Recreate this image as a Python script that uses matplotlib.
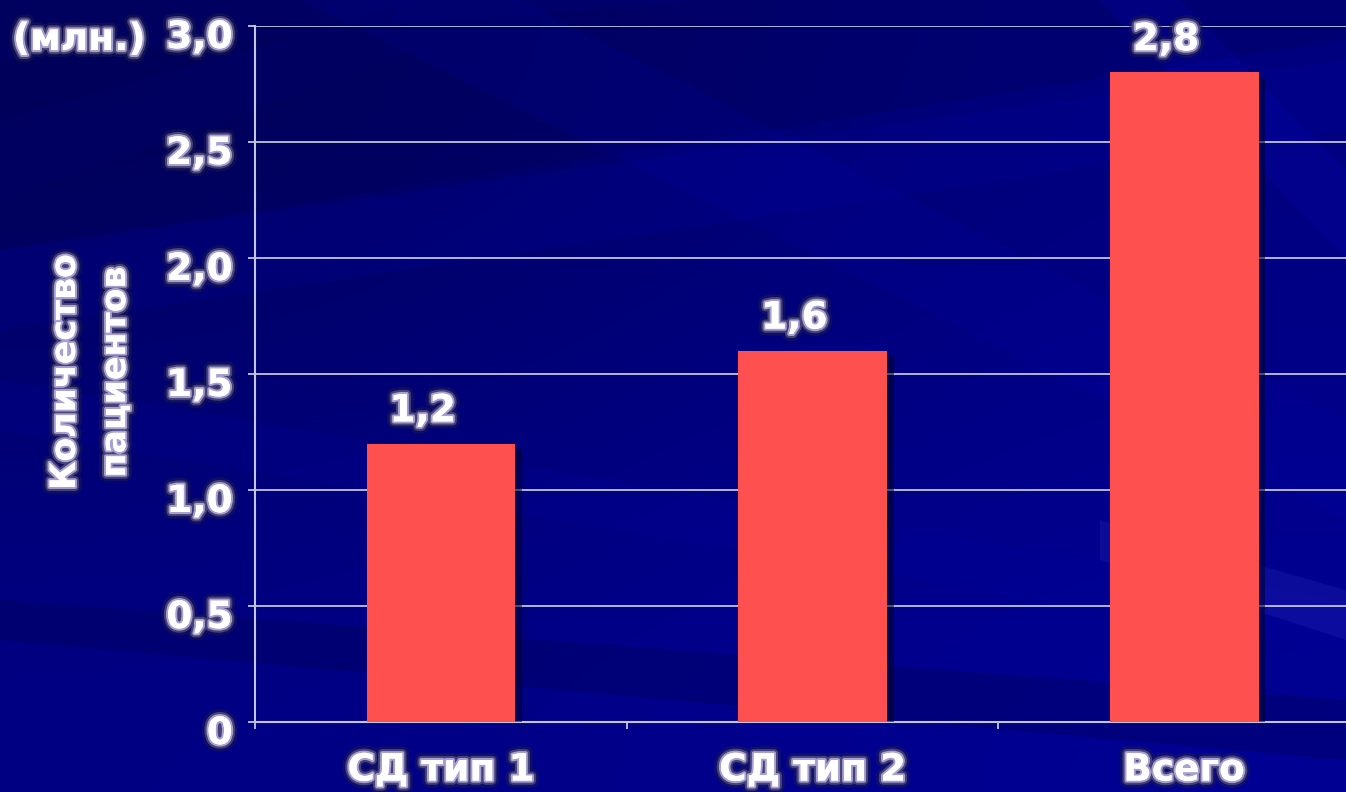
import numpy as np
import matplotlib
matplotlib.use('Agg')
import matplotlib.pyplot as plt
from matplotlib import patheffects as pe
from matplotlib.patches import Polygon
from matplotlib.transforms import ScaledTranslation

# данные: число пациентов с СД, млн.
categories = ['СД тип 1', 'СД тип 2', 'Всего']
values = [1.2, 1.6, 2.8]
value_labels = ['1,2', '1,6', '2,8']
yticks = [0, 0.5, 1.0, 1.5, 2.0, 2.5, 3.0]
ytick_labels = ['0', '0,5', '1,0', '1,5', '2,0', '2,5', '3,0']

W, H = 1346, 792
plt.rcParams['font.family'] = ['DejaVu Sans']
plt.rcParams['font.weight'] = 'bold'

# белый текст с сиреневым ореолом
glow = [pe.withStroke(linewidth=10, foreground='#20204a', alpha=0.45),
        pe.withStroke(linewidth=6, foreground='#4c4878', alpha=0.9),
        pe.withStroke(linewidth=3, foreground='#a8a0d0'),
        pe.Normal()]

fig = plt.figure(figsize=(W / 100, H / 100), dpi=100)

# фон: тёмно-синий градиент с диагональными полосами
bg = fig.add_axes([0, 0, 1, 1], zorder=-10)
bg.set_xlim(0, W)
bg.set_ylim(H, 0)
bg.axis('off')
grad = np.array([[[0.0, 0.0, 0.36], [0.0, 0.0, 0.50]],
                 [[0.0, 0.0, 0.52], [0.0, 0.0, 0.58]]])
bg.imshow(grad, extent=[0, W, H, 0], interpolation='bicubic', aspect='auto')
streaks = [
    ([(0, 60), (700, 0), (1346, 0), (1346, 40), (0, 250)], '#000048', 0.2),
    ([(0, 250), (1346, 60), (1346, 130), (0, 330)], '#0000a8', 0.18),
    ([(300, 0), (520, 0), (1346, 420), (1346, 520)], '#0000b0', 0.15),
    ([(0, 380), (1346, 600), (1346, 650), (0, 430)], '#0000a0', 0.2),
    ([(0, 600), (1346, 700), (1346, 760), (0, 640)], '#000050', 0.3),
    ([(1100, 520), (1346, 590), (1346, 640), (1100, 560)], '#3030c0', 0.25),
    ([(1100, 0), (1180, 0), (1346, 170), (1346, 260)], '#0a0ab8', 0.2),
    ([(0, 120), (420, 0), (560, 0), (0, 200)], '#00006a', 0.3),
]
for pts, col, a in streaks:
    bg.add_patch(Polygon(pts, closed=True, facecolor=col, edgecolor='none', alpha=a))

# область графика
x0, x1 = 255, 1370
y0, y1 = 722, 26
ax = fig.add_axes([x0 / W, (H - y0) / H, (x1 - x0) / W, (y0 - y1) / H])
ax.set_facecolor('none')

x = np.arange(len(categories))
bars = ax.bar(x, values, width=0.4, color='#ff5050', zorder=3)
for b in bars:
    b.set_path_effects([pe.SimplePatchShadow(offset=(5, -4), shadow_rgbFace='#000028', alpha=0.55),
                        pe.Normal()])

for xi, v, lab in zip(x, values, value_labels):
    ax.annotate(lab, (xi, v), xytext=(-13, 16), textcoords='offset points',
                ha='center', va='baseline', color='white', fontsize=27,
                path_effects=glow, zorder=5)

ax.set_xlim(-0.5, 2.5)
ax.set_ylim(0, 3.0)
ax.set_yticks(yticks)
ax.set_yticklabels(ytick_labels)
ax.set_xticks(x)
ax.set_xticklabels(categories)
ax.set_xticks([-0.5, 0.5, 1.5], minor=True)

line_col = '#c4c4dc'
ax.grid(axis='y', color=line_col, linewidth=1.3, zorder=1)
ax.set_axisbelow(True)
for s in ['top', 'right']:
    ax.spines[s].set_visible(False)
for s in ['left', 'bottom']:
    ax.spines[s].set_color(line_col)
    ax.spines[s].set_linewidth(1.5)

ax.tick_params(axis='y', colors=line_col, length=5, width=1.3, pad=11,
               labelsize=27, labelcolor='white')
ax.tick_params(axis='x', which='major', length=0, pad=22,
               labelsize=27, labelcolor='white')
ax.tick_params(axis='x', which='minor', colors=line_col, length=5, width=1.3)
for t in ax.get_yticklabels() + ax.get_xticklabels():
    t.set_path_effects(glow)

# подписи оси Y чуть ниже своих делений
shift = ScaledTranslation(0, -0.08, fig.dpi_scale_trans)
for t in ax.get_yticklabels():
    t.set_transform(t.get_transform() + shift)

fig.text(90 / W, 1 - 372 / H, 'Количество\nпациентов', rotation=90,
         ha='center', va='center', multialignment='center',
         color='white', fontsize=25, linespacing=1.6, path_effects=glow)
fig.text(13 / W, 1 - 50 / H, '(млн.)', ha='left', va='baseline',
         color='white', fontsize=27, path_effects=glow)

fig.savefig('out.png', dpi=100)
